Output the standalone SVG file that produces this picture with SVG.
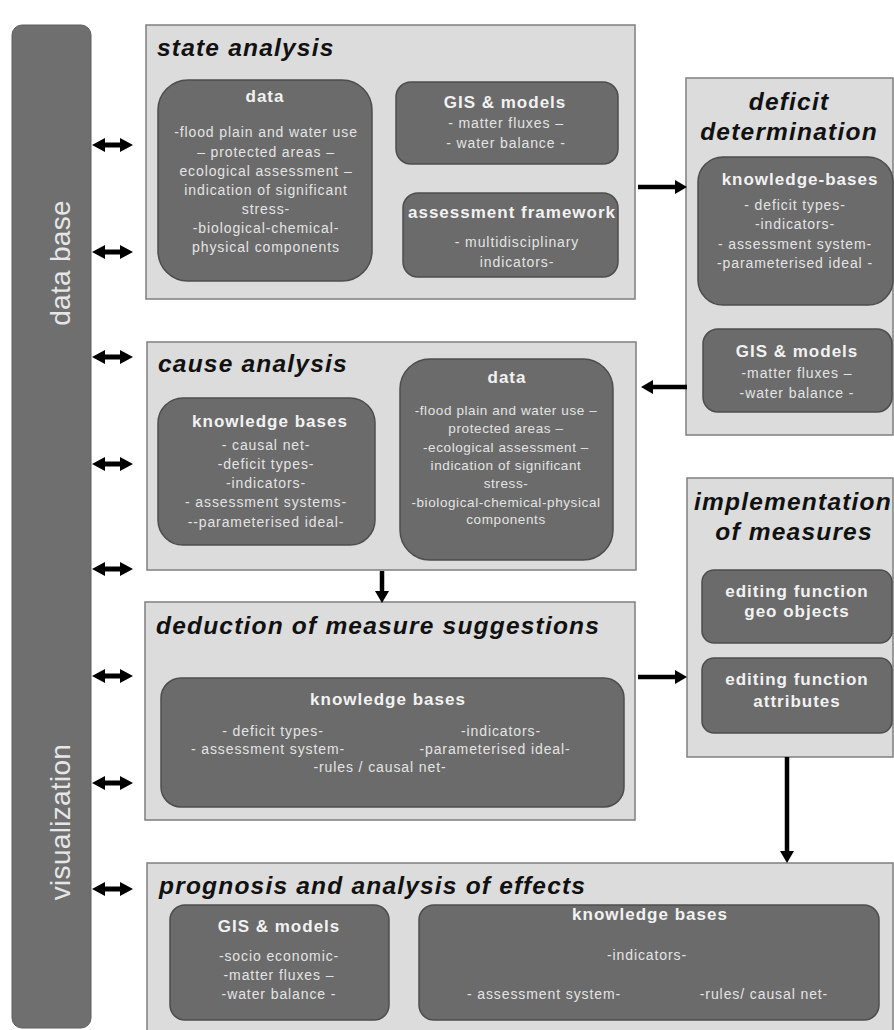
<svg xmlns="http://www.w3.org/2000/svg" xmlns:xlink="http://www.w3.org/1999/xlink" width="894" height="1030" viewBox="0 0 894 1030">
<defs>
<style>
.panel{fill:#dcdcdc;stroke:#7f7f7f;stroke-width:1.5}
.node{fill:#6b6b6b;stroke:#4d4d4d;stroke-width:1.5}
.bar{fill:#6f6f6f;stroke:#5e5e5e;stroke-width:1}
.title{font-family:"Liberation Sans",Arial,sans-serif;font-style:italic;font-weight:bold;font-size:24.5px;fill:#111;letter-spacing:1.2px}
.head{font-family:"Liberation Sans",Arial,sans-serif;font-weight:bold;font-size:17px;fill:#f2f2f2;text-anchor:middle;letter-spacing:1px}
.body{font-family:"Liberation Sans",Arial,sans-serif;font-size:14px;fill:#e4e4e4;text-anchor:middle;letter-spacing:0.9px}
.small{font-size:13.5px;letter-spacing:0.6px}
.bartext{font-family:"Liberation Sans",Arial,sans-serif;font-size:28px;fill:#e6e6e6;text-anchor:middle;letter-spacing:0.3px}
.conn{stroke:#000;stroke-width:4.5;fill:none}
</style>
<marker id="ah" viewBox="0 -7 12 14" refX="0" refY="0" markerWidth="12" markerHeight="14" markerUnits="userSpaceOnUse" orient="auto">
<path d="M0,-7 L12,0 L0,7 Z" fill="#000"/>
</marker>
<path id="dbl" d="M92,0 L105,-7 L105,-2.5 L120,-2.5 L120,-7 L133,0 L120,7 L120,2.5 L105,2.5 L105,7 Z" fill="#000"/>
</defs>

<g id="database-visualization">
<rect class="bar" x="12" y="25" width="79" height="1003" rx="10"/>
<text class="bartext" transform="translate(70,263) rotate(-90)">data base</text>
<text class="bartext" transform="translate(70,822) rotate(-90)">visualization</text>
</g>

<g id="state-analysis">
<rect class="panel" x="146" y="25" width="489" height="274"/>
<text class="title" x="157" y="56">state analysis</text>
<g id="state-data">
<rect class="node" x="158" y="80" width="214" height="201" rx="30"/>
<text class="head" x="265" y="102">data</text>
<text class="body" x="266" y="137">-flood plain and water use</text>
<text class="body" x="266" y="157">– protected areas –</text>
<text class="body" x="266" y="176">ecological assessment –</text>
<text class="body" x="266" y="195">indication of significant</text>
<text class="body" x="266" y="214">stress-</text>
<text class="body" x="266" y="233">-biological-chemical-</text>
<text class="body" x="266" y="252">physical components</text>
</g>
<g id="state-gis">
<rect class="node" x="396" y="82" width="222" height="82" rx="15"/>
<text class="head" x="505" y="108">GIS &amp; models</text>
<text class="body" x="506" y="128">- matter fluxes –</text>
<text class="body" x="506" y="148">- water balance -</text>
</g>
<g id="state-assessment">
<rect class="node" x="403" y="193" width="215" height="84" rx="15"/>
<text class="head" x="408" y="218" style="text-anchor:start">assessment framework</text>
<text class="body" x="517" y="247">- multidisciplinary</text>
<text class="body" x="517" y="267">indicators-</text>
</g>
</g>

<g id="deficit-determination">
<rect class="panel" x="686" y="78" width="207" height="357"/>
<text class="title" x="789" y="110" style="text-anchor:middle">deficit</text>
<text class="title" x="789" y="140" style="text-anchor:middle">determination</text>
<g id="deficit-kb">
<rect class="node" x="698" y="157" width="195" height="148" rx="25"/>
<text class="head" x="800" y="185">knowledge-bases</text>
<text class="body" x="795" y="210">- deficit types-</text>
<text class="body" x="795" y="229">-indicators-</text>
<text class="body" x="795" y="249">- assessment system-</text>
<text class="body" x="795" y="268">-parameterised ideal -</text>
</g>
<g id="deficit-gis">
<rect class="node" x="703" y="329" width="189" height="83" rx="15"/>
<text class="head" x="797" y="357">GIS &amp; models</text>
<text class="body" x="797" y="378">-matter fluxes –</text>
<text class="body" x="797" y="398">-water balance -</text>
</g>
</g>

<g id="cause-analysis">
<rect class="panel" x="147" y="342" width="489" height="228"/>
<text class="title" x="158" y="372">cause analysis</text>
<g id="cause-kb">
<rect class="node" x="158" y="398" width="217" height="147" rx="25"/>
<text class="head" x="270" y="427">knowledge bases</text>
<text class="body" x="266" y="450">- causal net-</text>
<text class="body" x="266" y="469">-deficit types-</text>
<text class="body" x="266" y="488">-indicators-</text>
<text class="body" x="266" y="507">- assessment systems-</text>
<text class="body" x="266" y="527">--parameterised ideal-</text>
</g>
<g id="cause-data">
<rect class="node" x="400" y="359" width="213" height="201" rx="30"/>
<text class="head" x="507" y="383">data</text>
<text class="body small" x="506" y="415">-flood plain and water use –</text>
<text class="body small" x="506" y="433">protected areas –</text>
<text class="body small" x="506" y="452">-ecological assessment –</text>
<text class="body small" x="506" y="470">indication of significant</text>
<text class="body small" x="506" y="488">stress-</text>
<text class="body small" x="506" y="507">-biological-chemical-physical</text>
<text class="body small" x="506" y="524">components</text>
</g>
</g>

<g id="deduction">
<rect class="panel" x="145" y="602" width="490" height="218"/>
<text class="title" x="156" y="634">deduction of measure suggestions</text>
<g id="deduction-kb">
<rect class="node" x="161" y="678" width="463" height="129" rx="20"/>
<text class="head" x="388" y="705">knowledge bases</text>
<text class="body" x="273" y="736">- deficit types-</text>
<text class="body" x="501" y="736">-indicators-</text>
<text class="body" x="268" y="754">- assessment system-</text>
<text class="body" x="495" y="754">-parameterised ideal-</text>
<text class="body" x="380" y="772">-rules / causal net-</text>
</g>
</g>

<g id="implementation">
<rect class="panel" x="687" y="478" width="206" height="279"/>
<text class="title" x="793" y="510" style="text-anchor:middle">implementation</text>
<text class="title" x="794" y="540" style="text-anchor:middle">of measures</text>
<g id="impl-geo">
<rect class="node" x="702" y="570" width="190" height="73" rx="12"/>
<text class="head" x="797" y="597">editing function</text>
<text class="head" x="797" y="617">geo objects</text>
</g>
<g id="impl-attr">
<rect class="node" x="702" y="658" width="190" height="75" rx="12"/>
<text class="head" x="797" y="685">editing function</text>
<text class="head" x="797" y="707">attributes</text>
</g>
</g>

<g id="prognosis">
<rect class="panel" x="147" y="863" width="746" height="180"/>
<text class="title" x="159" y="894">prognosis and analysis of effects</text>
<g id="prog-gis">
<rect class="node" x="170" y="905" width="219" height="115" rx="15"/>
<text class="head" x="279" y="932">GIS &amp; models</text>
<text class="body" x="279" y="961">-socio economic-</text>
<text class="body" x="279" y="980">-matter fluxes –</text>
<text class="body" x="279" y="999">-water balance -</text>
</g>
<g id="prog-kb">
<rect class="node" x="419" y="905" width="460" height="115" rx="15"/>
<text class="head" x="650" y="920">knowledge bases</text>
<text class="body" x="647" y="960">-indicators-</text>
<text class="body" x="544" y="999">- assessment system-</text>
<text class="body" x="764" y="999">-rules/ causal net-</text>
</g>
</g>

<g id="connectors">
<use xlink:href="#dbl" y="145"/>
<use xlink:href="#dbl" y="252"/>
<use xlink:href="#dbl" y="357"/>
<use xlink:href="#dbl" y="464"/>
<use xlink:href="#dbl" y="569"/>
<use xlink:href="#dbl" y="676"/>
<use xlink:href="#dbl" y="783"/>
<use xlink:href="#dbl" y="889"/>
<line class="conn" x1="638" y1="187" x2="675" y2="187" marker-end="url(#ah)"/>
<line class="conn" x1="687" y1="387" x2="653" y2="387" marker-end="url(#ah)"/>
<line class="conn" x1="382" y1="571" x2="382" y2="591" marker-end="url(#ah)"/>
<line class="conn" x1="638" y1="677" x2="675" y2="677" marker-end="url(#ah)"/>
<line class="conn" x1="787" y1="757" x2="787" y2="851" marker-end="url(#ah)"/>
</g>
</svg>
